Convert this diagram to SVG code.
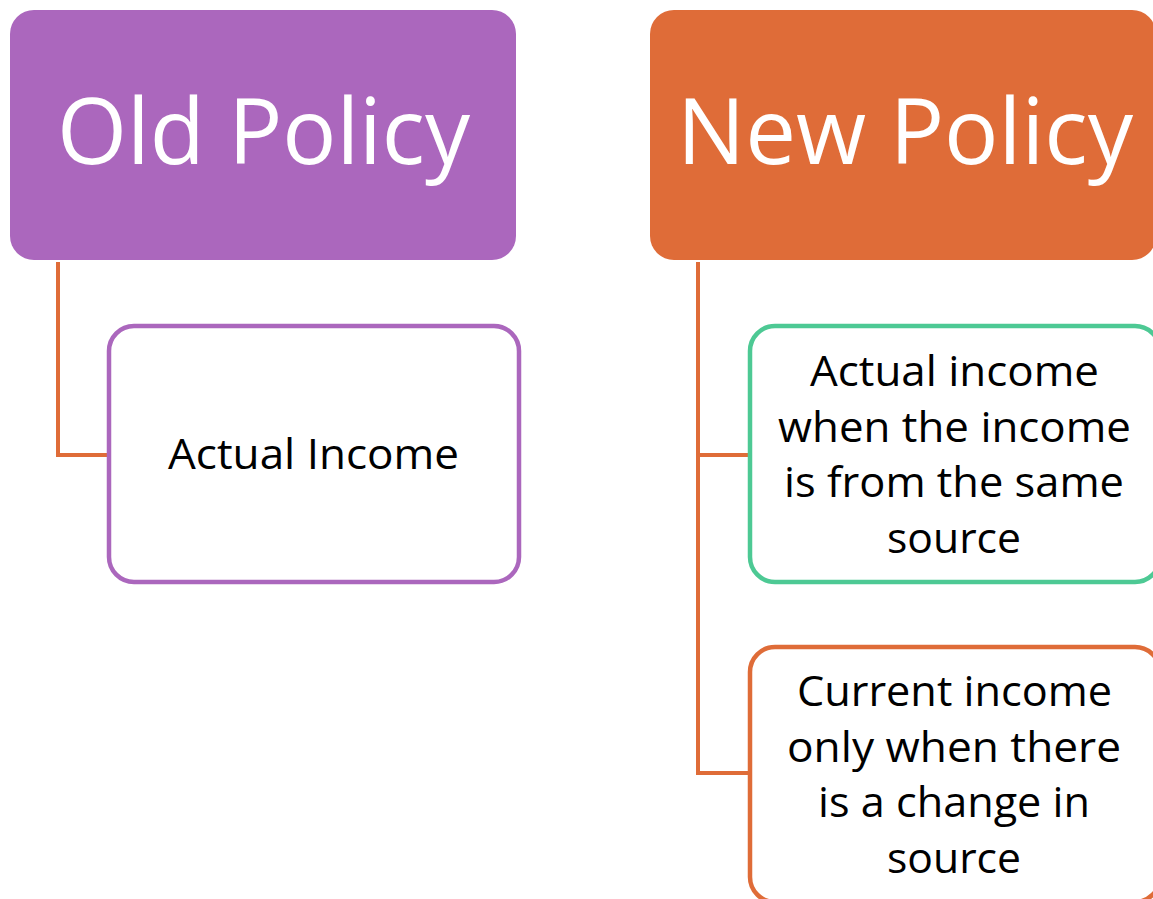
<svg xmlns="http://www.w3.org/2000/svg" width="1153" height="899" viewBox="0 0 1153 899">
<style>
.title{font-family:"Open Sans","Noto Sans",sans-serif;font-size:92px;fill:#fff;text-anchor:middle}
.body{font-family:"Open Sans","Noto Sans",sans-serif;font-size:42px;fill:#000;text-anchor:middle}
.conn{fill:none;stroke:#DF6C38;stroke-width:4}
.child{fill:#fff;stroke-width:4.5}
</style>
<rect width="1153" height="899" fill="#fff"/>
<g id="connectors">
<polyline class="conn" points="58,262 58,455 108,455"/>
<polyline class="conn" points="698,262 698,773 749,773"/>
<line class="conn" x1="698" y1="455" x2="749" y2="455"/>
</g>
<g id="old-policy">
<rect x="10" y="10" width="506" height="250" rx="24" fill="#AB67BD"/>
<text class="title" x="263.5" y="164" textLength="413" lengthAdjust="spacingAndGlyphs">Old Policy</text>
</g>
<g id="new-policy">
<rect x="650" y="10" width="506" height="250" rx="24" fill="#DF6C38"/>
<text class="title" x="905" y="164" textLength="456" lengthAdjust="spacingAndGlyphs">New Policy</text>
</g>
<g id="actual-income">
<rect class="child" x="109" y="326" width="410" height="256" rx="25" stroke="#AB67BD"/>
<text class="body" x="313.5" y="469" textLength="291" lengthAdjust="spacingAndGlyphs">Actual Income</text>
</g>
<g id="same-source">
<rect class="child" x="750" y="326" width="410" height="256" rx="25" stroke="#4DC994"/>
<text class="body" x="954.5" y="386" textLength="289" lengthAdjust="spacingAndGlyphs">Actual income</text>
<text class="body" x="954.5" y="442" textLength="353" lengthAdjust="spacingAndGlyphs">when the income</text>
<text class="body" x="954" y="497" textLength="340" lengthAdjust="spacingAndGlyphs">is from the same</text>
<text class="body" x="954" y="553" textLength="134" lengthAdjust="spacingAndGlyphs">source</text>
</g>
<g id="change-source">
<rect class="child" x="750" y="647" width="410" height="255" rx="25" stroke="#DF6C38"/>
<text class="body" x="954.5" y="706" textLength="315" lengthAdjust="spacingAndGlyphs">Current income</text>
<text class="body" x="954" y="762" textLength="334" lengthAdjust="spacingAndGlyphs">only when there</text>
<text class="body" x="954" y="817" textLength="272" lengthAdjust="spacingAndGlyphs">is a change in</text>
<text class="body" x="954" y="873" textLength="134" lengthAdjust="spacingAndGlyphs">source</text>
</g>
</svg>
